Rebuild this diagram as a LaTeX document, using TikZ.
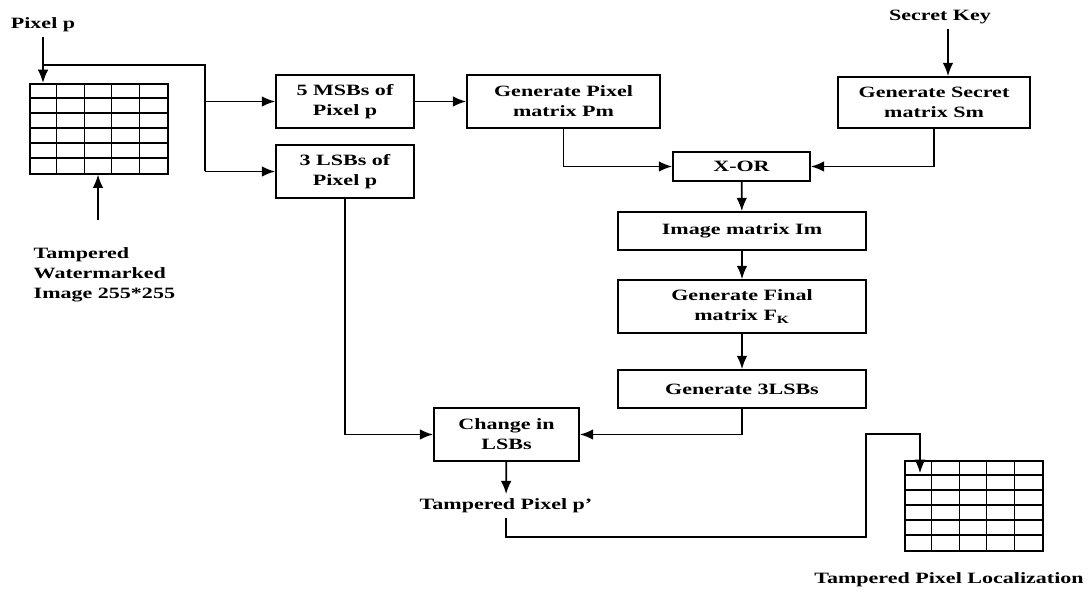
\documentclass[tikz,border=0pt]{standalone}
\usepackage{fontspec}
\setmainfont{Liberation Serif}[FakeStretch=1.4]
\usetikzlibrary{arrows.meta}
\tikzset{>={Latex[length=10pt,width=8pt]},every node/.style={font=\bfseries\fontsize{11.8}{15}\selectfont},
    blk/.style={draw,line width=1.3pt,align=center,inner sep=0pt},
    wire/.style={line width=1.3pt},
    fine/.style={line width=0.8pt}}

\begin{document}
\begin{tikzpicture}[x=0.75pt,y=-0.75pt]
    \useasboundingbox (0,0) rectangle (1091,591);

    \foreach \gx/\gy/\nm in {29/83/img,904/460/loc}{
        \node[draw,line width=1.2pt,minimum width=103.5pt,minimum height=67.5pt,inner sep=0pt,anchor=north west] (\nm) at (\gx,\gy) {};
        \foreach \i in {1,...,4} \draw[line width=1pt] (\gx+27.6*\i,\gy) -- (\gx+27.6*\i,\gy+90);
        \foreach \j in {1,...,5} \draw[line width=1pt] (\gx,\gy+15*\j) -- (\gx+138,\gy+15*\j);
    }

    \node (pix) at (43,25) {Pixel p};
    \node[align=left,anchor=west] (tw) at (29,275) {Tampered\\Watermarked\\Image 255*255};
    \node (key) at (940,17) {Secret Key};
    \node (tp) at (506,506) {Tampered Pixel p’};
    \node (tpl) at (949,580) {Tampered Pixel Localization};

    \node[blk,minimum width=103.5pt,minimum height=39.75pt] (msb) at (345,101.5) {5 MSBs of\\Pixel p};
    \node[blk,minimum width=103.5pt,minimum height=39.75pt] (lsb) at (345,171.5) {3 LSBs of\\Pixel p};
    \node[blk,minimum width=144.75pt,minimum height=39.75pt] (genpix) at (563.5,101.5) {Generate Pixel\\matrix Pm};
    \node[blk,minimum width=144pt,minimum height=38.25pt] (gensec) at (934,102.5) {Generate Secret\\matrix Sm};
    \node[blk,minimum width=102.75pt,minimum height=21.75pt] (xor) at (741.5,166.5) {X-OR};
    \node[blk,minimum width=186pt,minimum height=28.5pt] (im) at (742,231) {Image matrix Im};
    \node[blk,minimum width=186pt,minimum height=39.75pt] (fin) at (742,306.5) {Generate Final\\matrix F\textsubscript{K}};
    \node[blk,minimum width=186pt,minimum height=28.5pt] (lsbs) at (742,389) {Generate 3LSBs};
    \node[blk,minimum width=108.75pt,minimum height=39.75pt] (chg) at (506.5,434.5) {Change in\\LSBs};

    \coordinate (tap) at (43,65);
    \coordinate (split) at (205,65);
    \coordinate (src) at (98,220);
    \coordinate (keyx) at (948,0);
    \coordinate (turn) at (866,537);
    \coordinate (drop) at (920,434);
    \coordinate (hit) at (920,473);

    \draw[wire,->] (pix) -- (pix |- img.north);
    \draw[wire,->] (src) -- (src |- img.south);
    \draw[fine] (tap) -- (split) -- (split |- lsb);
    \draw[wire,->] (split |- msb) -- (msb);
    \draw[wire,->] (split |- lsb) -- (lsb);
    \draw[wire,->] (msb) -- (genpix);
    \draw[wire,->] (genpix.south) |- (xor.west);
    \draw[wire,->] (key.south -| keyx) -- (keyx |- gensec.north);
    \draw[wire,->] (gensec.south) |- (xor.east);
    \draw[wire,->] (xor) -- (im);
    \draw[wire,->] (im) -- (fin);
    \draw[wire,->] (fin) -- (lsbs);
    \draw[wire,->] (lsbs.south) |- (chg.east);
    \draw[wire,->] (lsb.south) |- (chg.west);
    \draw[wire,->] (chg) -- (tp);
    \draw[fine,->] (tp.south) |- (turn) |- (drop) -- (hit);
\end{tikzpicture}
\end{document}
